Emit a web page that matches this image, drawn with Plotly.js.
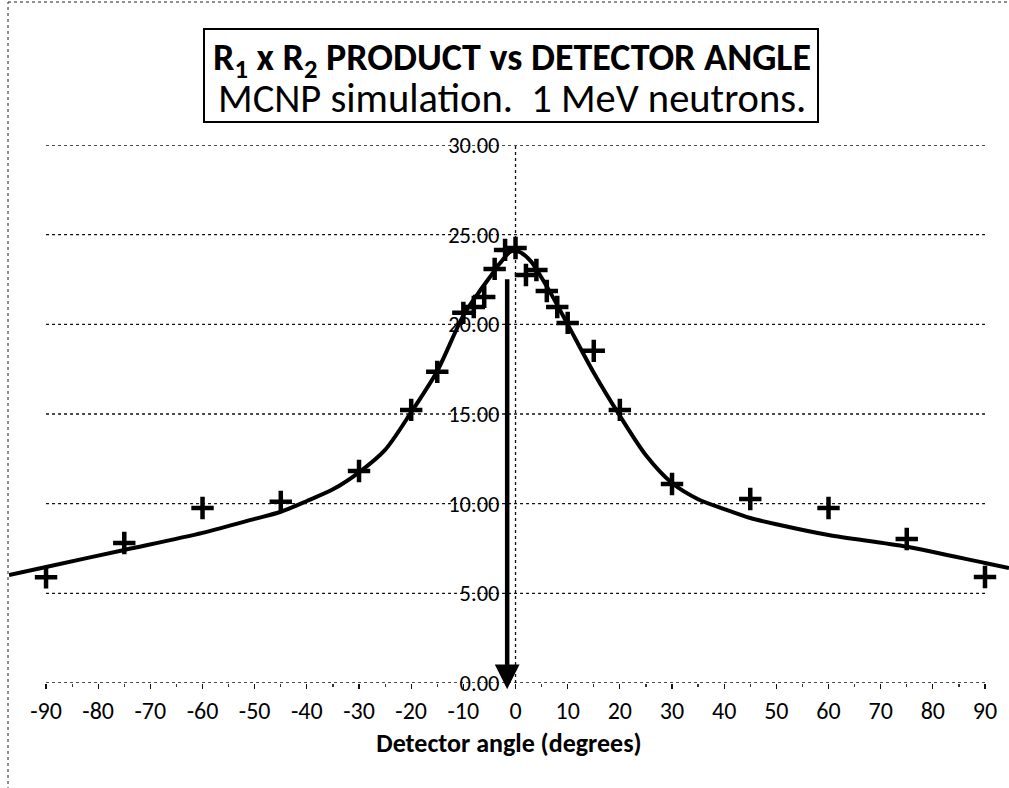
<!DOCTYPE html>
<html><head><meta charset="utf-8">
<script src="https://cdn.plot.ly/plotly-3.0.1.min.js"></script>
<style>html,body{margin:0;padding:0;background:#fff}#chart{width:1009px;height:788px}</style>
</head><body><div id="chart"></div>
<script>
// Measured (simulation) points
const angles   = [-90,-75,-60,-45,-30,-20,-15,-10,-8,-6,-4,-2,0,2,4,6,8,10,15,20,30,45,60,75,90];
const products = [5.9,7.81,9.76,10.1,11.82,15.23,17.35,20.64,20.97,21.53,23.09,24.15,24.26,22.75,23.03,21.86,20.97,20.08,18.52,15.23,11.1,10.26,9.76,8.03,5.91];
// Fitted curve
const fitAngles = [-97.1,-90,-75,-60,-50,-45,-40,-35,-30,-25,-20,-15,-10,-7,-5,-3,-1,0,1,3,5,7,10,15,20,25,30,35,40,45,50,60,75,90,94.6];
const fitValues = [6.02,6.47,7.42,8.37,9.15,9.55,10.15,10.8,11.75,13.0,15.1,17.4,20.5,21.8,22.6,23.4,24.05,24.1,24.0,23.5,22.6,21.6,20.0,17.3,14.9,12.7,11.15,10.25,9.7,9.2,8.85,8.25,7.6,6.69,6.41];
const xTickVals = [-90,-80,-70,-60,-50,-40,-30,-20,-10,0,10,20,30,40,50,60,70,80,90];
const xMinorVals = [-85,-75,-65,-55,-45,-35,-25,-15,-5,5,15,25,35,45,55,65,75,85];
const yTickVals = [0,5,10,15,20,25,30];
const titleLine1 = 'R<sub>1</sub> x R<sub>2</sub> PRODUCT vs DETECTOR ANGLE';
const titleLine2 = 'MCNP simulation.  1 MeV neutrons.';
const xTitle = 'Detector angle (degrees)';
const arrowTop = 22.6, arrowTip = -0.35, arrowX = -1.6;

const FONT = 'Carlito, Lato, sans-serif';
const xRange = [-97.1, 94.6];
const yPos = (0 - xRange[0]) / (xRange[1] - xRange[0]);
// pixel helpers for paper coordinates (plot area: x 9..1009, y 145..683)
const px = v => (v - 9) / 1000;
const py = v => (683 - v) / 538;

const shapes = [];
yTickVals.forEach(v => shapes.push({type:'line', layer:'below', xref:'x', yref:'y',
  x0:xTickVals[0], x1:xTickVals[xTickVals.length-1], y0:v, y1:v,
  line:{color:'#111', width:1.4, dash:'dot'}}));
shapes.push({type:'line', layer:'below', xref:'x', yref:'y', x0:0, x1:0, y0:0, y1:yTickVals[yTickVals.length-1],
  line:{color:'#111', width:1.3, dash:'dot'}});
// chart border (dotted)
shapes.push({type:'line', xref:'paper', yref:'paper', x0:px(8), x1:px(8), y0:py(790), y1:py(2), line:{color:'#222', width:1, dash:'dot'}});
shapes.push({type:'line', xref:'paper', yref:'paper', x0:px(8), x1:px(1010), y0:py(2), y1:py(2), line:{color:'#222', width:1, dash:'dot'}});
// title box
shapes.push({type:'rect', xref:'paper', yref:'paper', x0:px(204), x1:px(818), y0:py(122), y1:py(29),
  line:{color:'#000', width:2}, fillcolor:'#fff'});

const traces = [
  {x:fitAngles, y:fitValues, mode:'lines', line:{color:'#000', width:4, shape:'spline', smoothing:0.8}, hoverinfo:'skip', cliponaxis:false},
  {x:angles, y:products, mode:'markers', marker:{symbol:'cross-thin', size:16, color:'#000', line:{color:'#000', width:4.5}}, cliponaxis:false}
];

const layout = {
  width:1009, height:788, showlegend:false,
  paper_bgcolor:'#fff', plot_bgcolor:'rgba(0,0,0,0)',
  margin:{l:9, r:0, t:145, b:105},
  font:{family:FONT, color:'#000', size:20},
  xaxis:{range:xRange, showgrid:false, zeroline:false, showline:false,
    tickmode:'array', tickvals:xTickVals, ticktext:xTickVals.map(String),
    ticks:'outside', ticklen:5, tickwidth:1.2, tickcolor:'#111',
    minor:{tickmode:'array', tickvals:xMinorVals, ticks:'outside', ticklen:3, tickcolor:'#333'},
    tickfont:{family:FONT, size:24, color:'#000'}, ticklabelstandoff:1,
    title:{text:'<b>'+xTitle+'</b>', font:{family:FONT, size:26, color:'#000'}, standoff:10}},
  yaxis:{range:[0,30], anchor:'free', position:yPos, showgrid:false, zeroline:false, showline:false,
    tickmode:'array', tickvals:yTickVals, tickformat:'.2f', ticks:'',
    tickfont:{family:FONT, size:22.5, color:'#000'}, ticklabelstandoff:16},
  shapes: shapes,
  annotations:[
    {xref:'paper', yref:'paper', x:px(512), y:py(59), xanchor:'center', yanchor:'middle', showarrow:false,
     text:'<b>'+titleLine1+'</b>', font:{family:FONT, size:38, color:'#000'}},
    {xref:'paper', yref:'paper', x:px(512), y:py(98), xanchor:'center', yanchor:'middle', showarrow:false,
     text:titleLine2, font:{family:FONT, size:40.5, color:'#000'}},
    {xref:'x', yref:'y', axref:'x', ayref:'y', x:arrowX, y:arrowTip, ax:arrowX, ay:arrowTop, text:'',
     showarrow:true, arrowhead:2, arrowsize:1.1, arrowwidth:4.5, arrowcolor:'#000'}
  ]
};
Plotly.newPlot('chart', traces, layout, {displayModeBar:false, staticPlot:true});
</script></body></html>
